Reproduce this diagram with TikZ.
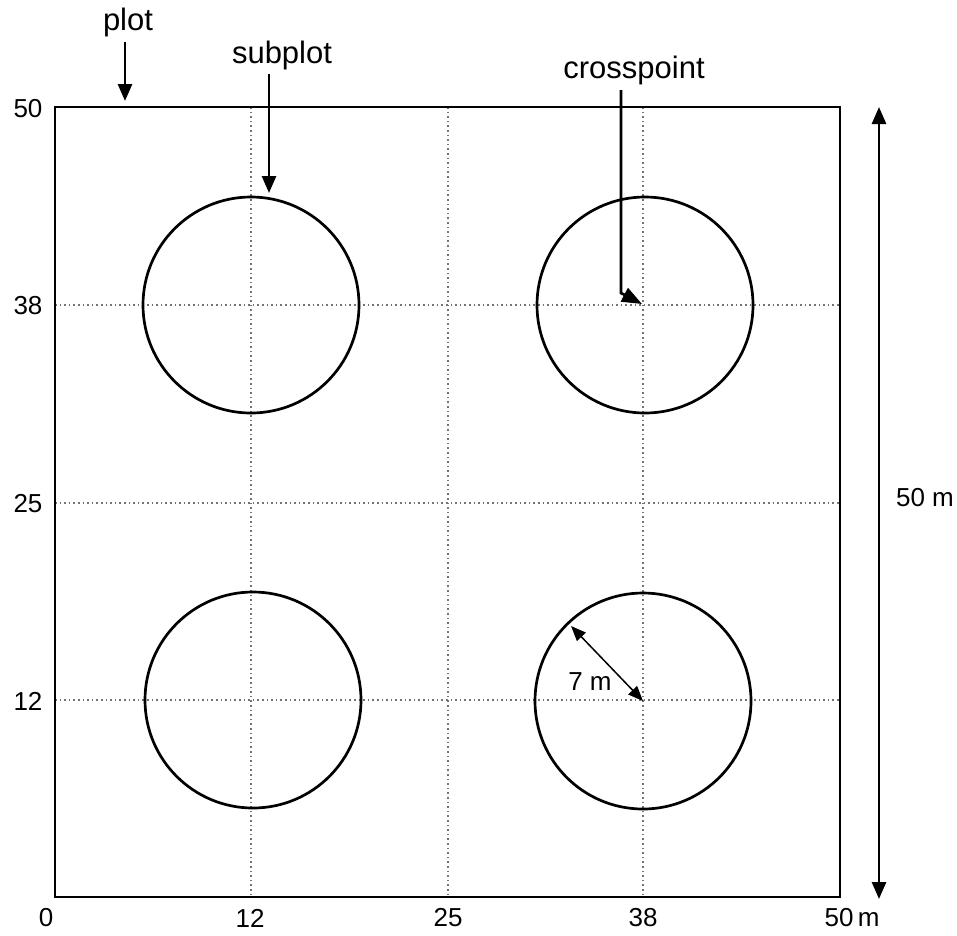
\documentclass[tikz,border=0pt]{standalone}
\usepackage{fontspec}
\setmainfont{Liberation Sans}
\usetikzlibrary{arrows.meta}
\begin{document}
\begin{tikzpicture}[x=1pt,y=-1pt,
  frame/.style={line width=2.8pt},
  grid/.style={black!55, line width=1.2pt, dash pattern=on 1.6pt off 3pt},
  subcircle/.style={line width=2.7pt},
  bigarrow/.style={line width=2.7pt,-{Triangle[length=17pt,width=14pt]}},
  thinarrow/.style={line width=1.5pt,{Triangle[length=15pt,width=12pt]}-{Triangle[length=15pt,width=12pt]}},
  lbl/.style={inner sep=0pt,font=\fontsize{31}{36}\selectfont},
  num/.style={inner sep=0pt,font=\fontsize{26}{30}\selectfont}]
\useasboundingbox (0,0) rectangle (957,935);
% frame corners
\coordinate (tl) at (55,107);
\coordinate (br) at (840,897);
% grid
\draw[grid] (55,107) -- (55,897);
\foreach \x in {251,448,643} \draw[grid] (\x,107) -- (\x,897);
\foreach \y in {305,503,700} \draw[grid] (55,\y) -- (840,\y);
\draw[frame] (tl) rectangle (br);
% subplot circles
\coordinate (c1) at (251,305);
\coordinate (c2) at (645,305);
\coordinate (c3) at (253,700);
\coordinate (c4) at (643,701);
\foreach \c in {c1,c2,c3,c4} \draw[subcircle] (\c) circle [radius=108];
% axis labels
\node[num] (y50) at (28,109) {50};
\node[num] (y38) at (28,306) {38};
\node[num] (y25) at (28,504) {25};
\node[num] (y12) at (28,701) {12};
\node[num] (x0) at (46,918) {0};
\node[num] (x12) at (250,918) {12};
\node[num] (x25) at (448,918) {25};
\node[num] (x38) at (643,918) {38};
\node[num] (x50) at (852,918) {50\,m};
% labels with arrows
\node[lbl] (plot) at (128,22) {plot};
\coordinate (plotend) at (125,101);
\draw[bigarrow] (125,42) -- (plotend);
\node[lbl] (subplot) at (282,55) {subplot};
\coordinate (subend) at (269,193);
\draw[bigarrow] (269,74) -- (subend);
\node[lbl] (cross) at (634,70) {crosspoint};
\coordinate (crossend) at (642,304);
\draw[line width=2.7pt,-{Triangle[length=20pt,width=15pt]}] (621,90) -- (621,293) -- (crossend);
% 50 m dimension
\coordinate (dimtop) at (879,107);
\coordinate (dimbot) at (879,899);
\draw[line width=2.7pt,{Triangle[length=17pt,width=14pt]}-{Triangle[length=17pt,width=14pt]}] (dimtop) -- (dimbot);
\node[num] (dimlbl) at (925,498) {50 m};
% radius
\coordinate (rimpt) at (571,626);
\draw[thinarrow] (rimpt) -- (c4);
\node[num] (rlbl) at (590,682) {7 m};
\end{tikzpicture}
\end{document}
